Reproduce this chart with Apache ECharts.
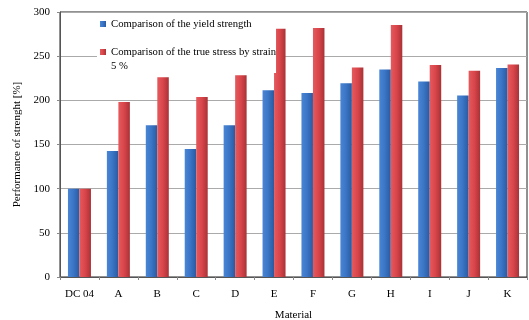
<!DOCTYPE html>
<html><head><meta charset="utf-8">
<script src="https://cdn.jsdelivr.net/npm/echarts@6/dist/echarts.min.js"></script>
<style>html,body{margin:0;padding:0;background:#fff}#c{width:529px;height:320px}</style>
</head><body><div id="c"></div>
<script>
const categories = ['DC 04','A','B','C','D','E','F','G','H','I','J','K'];
const yieldStrength = [100,142.6,171.8,144.9,171.8,211.5,208.4,219.4,234.9,221.3,205.4,236.5];
const trueStress = [100,198.2,226.2,203.9,228.5,281,281.8,237.2,285.2,239.9,233.4,240.5];
const yTicks = [0,50,100,150,200,250,300];
const seriesNames = ['Comparison of the yield strength','Comparison of the true stress by strain 5 %'];

const font = '"Liberation Serif", "Times New Roman", serif';
const chart = echarts.init(document.getElementById('c'));
function grad(c1,c2,c3){
  return new echarts.graphic.LinearGradient(0,0,1,0,[{offset:0,color:c1},{offset:0.5,color:c2},{offset:1,color:c3}]);
}
chart.setOption({
  animation:false,
  textStyle:{fontFamily:font},
  grid:{left:60,right:2,top:12,bottom:43,show:true,borderColor:'#222',borderWidth:1,outerBoundsMode:'none',containLabel:false},
  legend:{
    orient:'vertical',left:97,top:15,
    backgroundColor:'#fff',
    padding:[2,0,0,3],
    itemWidth:6,itemHeight:6,itemGap:0,
    icon:'rect',
    textStyle:{fontFamily:font,fontSize:10.7,color:'#000',lineHeight:14},
    formatter:function(n){return n===seriesNames[1]?'\u00a0\nComparison of the true stress by strain\n5 %':n;},
    data:seriesNames
  },
  xAxis:{
    type:'category',data:categories,
    name:'Material',nameLocation:'middle',nameGap:33,
    nameTextStyle:{fontFamily:font,fontSize:11,color:'#000'},
    axisLine:{lineStyle:{color:'#555'}},
    axisTick:{show:true,alignWithLabel:false,length:3,lineStyle:{color:'#888'}},
    axisLabel:{fontFamily:font,fontSize:11,color:'#000',margin:12}
  },
  yAxis:{
    type:'value',min:0,max:300,interval:50,
    name:'Performance of strenght [%]',nameLocation:'middle',nameGap:37,
    nameTextStyle:{fontFamily:font,fontSize:11,color:'#000'},
    axisLine:{show:true,lineStyle:{color:'#555'}},
    axisTick:{show:true,length:3,lineStyle:{color:'#888'}},
    axisLabel:{fontFamily:font,fontSize:11,color:'#000',margin:10,formatter:function(v){return yTicks.indexOf(v)>=0?String(v):'';}},
    splitLine:{lineStyle:{color:'#aaa'}}
  },
  series:[
    {name:seriesNames[0],type:'bar',data:yieldStrength,barWidth:11.5,barGap:'0%',
     itemStyle:{color:grad('#4a86d6','#3a74c4','#2a5aa0')}},
    {name:seriesNames[1],type:'bar',data:trueStress,barWidth:11.5,barGap:'0%',
     itemStyle:{color:grad('#e45a5e','#d9454a','#a83236')}}
  ]
});
</script></body></html>
